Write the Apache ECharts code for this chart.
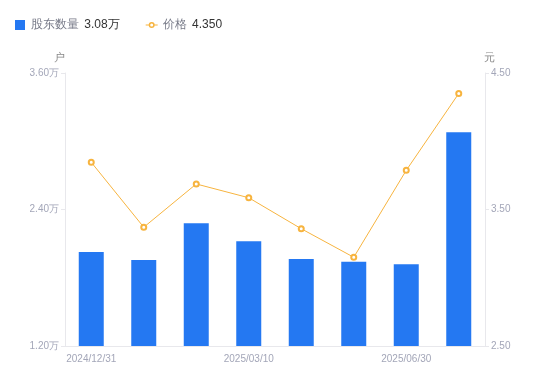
<!DOCTYPE html>
<html>
<head>
<meta charset="utf-8">
<script src="https://cdn.jsdelivr.net/npm/echarts@6/dist/echarts.min.js"></script>
<style>
  html, body { margin: 0; padding: 0; background: #fff; }
  #main { width: 550px; height: 381px; }
</style>
</head>
<body>
<div id="main"></div>
<script>
// 日期
var dates = ['2024/12/31', '2025/01/20', '2025/02/20', '2025/03/10', '2025/03/31', '2025/04/30', '2025/06/30', '2025/08/20'];
// 股东户数(户)
var holders = [20260, 19560, 22790, 21200, 19650, 19410, 19180, 30800];
// 股价(元)
var prices = [3.846, 3.370, 3.687, 3.586, 3.359, 3.150, 3.787, 4.350];
var leftTicks = [12000, 24000, 36000];
var rightTicks = [2.5, 3.5, 4.5];

var lastHolder = (holders[holders.length - 1] / 10000).toFixed(2) + '万';
var lastPrice = prices[prices.length - 1].toFixed(3);

var labelColor = '#a3a6b8';
var lineColor = '#e8e8ec';
// 图例小图标：线 + 空心圆
var lineIcon = 'path://M0,4.5H3.2V5.5H0Z M8.8,4.5H12V5.5H8.8Z M3,5A3,3 0 1,1 9,5A3,3 0 1,1 3,5Z M4.5,5A1.5,1.5 0 1,0 7.5,5A1.5,1.5 0 1,0 4.5,5Z';

var option = {
  animation: false,
  legend: {
    left: 15,
    top: 19,
    padding: 0,
    itemWidth: 12,
    itemHeight: 10,
    itemGap: 26,
    data: [
      { name: '股东数量', icon: 'path://M0,0H10V10H0Z' },
      { name: '价格', icon: lineIcon, itemStyle: { color: '#f7b43f', borderWidth: 0 } }
    ],
    formatter: function (name) {
      var v = name === '股东数量' ? lastHolder : lastPrice;
      return '{n|' + name + '} {v|' + v + '}';
    },
    textStyle: {
      rich: {
        n: { color: '#777a88', fontSize: 12 },
        v: { color: '#333', fontSize: 12, padding: [0, 0, 0, 2] }
      }
    }
  },
  grid: { left: 65, right: 65, top: 73, bottom: 35 },
  xAxis: {
    type: 'category',
    data: dates,
    axisLine: { lineStyle: { color: lineColor } },
    axisTick: { show: false },
    axisLabel: {
      interval: 2,
      align: 'left',
      padding: [0, 0, 0, -25],
      color: labelColor,
      fontSize: 10,
      margin: 8
    }
  },
  yAxis: [
    {
      type: 'value',
      name: '户',
      min: leftTicks[0],
      max: leftTicks[leftTicks.length - 1],
      interval: leftTicks[1] - leftTicks[0],
      nameTextStyle: { color: '#888', fontSize: 11, padding: [0, 12, 0, 0] },
      nameGap: 10,
      axisLine: { show: true, lineStyle: { color: lineColor } },
      axisTick: { show: true, length: 4, lineStyle: { color: lineColor } },
      splitLine: { show: false },
      axisLabel: {
        color: labelColor,
        fontSize: 10,
        margin: 6,
        formatter: function (v) { return (v / 10000).toFixed(2) + '万'; }
      }
    },
    {
      type: 'value',
      name: '元',
      min: rightTicks[0],
      max: rightTicks[rightTicks.length - 1],
      interval: rightTicks[1] - rightTicks[0],
      nameTextStyle: { color: '#888', fontSize: 11, padding: [0, 0, 0, 8] },
      nameGap: 10,
      axisLine: { show: true, lineStyle: { color: lineColor } },
      axisTick: { show: true, length: 4, lineStyle: { color: lineColor } },
      splitLine: { show: false },
      axisLabel: {
        color: labelColor,
        fontSize: 10,
        margin: 6,
        formatter: function (v) { return v.toFixed(2); }
      }
    }
  ],
  series: [
    {
      name: '股东数量',
      type: 'bar',
      yAxisIndex: 0,
      barWidth: 25,
      itemStyle: { color: '#2478f2' },
      data: holders
    },
    {
      name: '价格',
      type: 'line',
      yAxisIndex: 1,
      symbol: 'emptyCircle',
      symbolSize: 5,
      itemStyle: { color: '#f7b43f', borderWidth: 1.5 },
      lineStyle: { color: '#f7b43f', width: 1 },
      data: prices
    }
  ]
};

var myChart = echarts.init(document.getElementById('main'));
myChart.setOption(option);
window.addEventListener('resize', function () {
  myChart.resize();
});
</script>
</body>
</html>
